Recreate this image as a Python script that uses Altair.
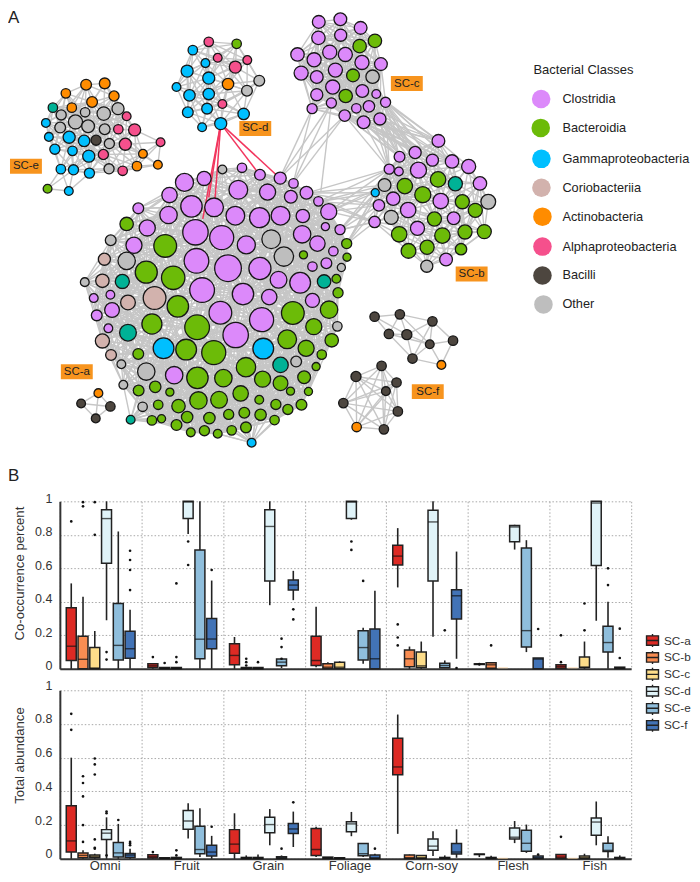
import math
import altair as alt
import pandas as pd

alt.data_transformers.disable_max_rows()
FONT = "Liberation Sans"

# ---------- network: nodes, as (x, y, radius) in 3x crop units
CLASS_NAMES = ["Clostridia", "Bacteroidia", "Gammaproteobacteria", "Coriobacteriia",
               "Actinobacteria", "Alphaproteobacteria", "Bacilli", "Other", "Teal"]
CLASS_COLORS = ["#DC89FA", "#6CBB08", "#00BFFF", "#D2B2AD", "#FF8C00", "#F5508C",
                "#4D463F", "#BEBEBE", "#00B296"]

e_nodes = {
    "Actinobacteria": [(259,251,18),(315,247,18),(198,277,16),(343,285,17),(277,303,18),(216,320,16),(430,459,15),(412,496,16),(475,492,15)],
    "Teal": [(159,320,16)],
    "Other": [(184,342,17),(256,334,16),(312,338,22),(355,323,20),(227,363,23),(265,376,21),(181,380,18),(315,385,18),(329,428,17),(328,504,17)],
    "Alphaproteobacteria": [(381,346,15),(356,385,16),(405,387,20),(377,430,20),(311,461,17),(369,510,16),(483,424,15)],
    "Bacilli": [(289,418,17)],
    "Gammaproteobacteria": [(138,366,15),(147,408,15),(208,409,20),(253,420,19),(165,445,17),(218,450,16),(267,466,20),(183,505,16),(221,507,17),(269,517,17),(207,571,15)],
    "Bacteroidia": [(143,564,15)],
}
d_nodes = {
    "Alphaproteobacteria": [(628,122,16),(655,170,15),(708,198,20),(744,177,15),(669,309,15)],
    "Bacteroidia": [(712,128,16)],
    "Gammaproteobacteria": [(580,147,16),(618,186,15),(563,210,20),(628,231,20),(531,258,15),(570,283,19),(628,279,19),(565,334,18),(623,323,18),(733,339,19),(664,368,20),(608,379,15)],
    "Actinobacteria": [(686,249,19)],
    "Other": [(780,239,18),(743,269,18)],
}
c_nodes = {
    "Clostridia": [(149,62,21),(214,54,21),(275,80,21),(148,110,22),(215,102,20),(182,153,23),(85,160,22),(135,176,23),(229,160,23),(279,184,23),(336,189,21),(96,216,23),(143,228,21),(199,207,23),(191,258,23),(143,281,20),(280,270,21),(322,279,15),(350,304,17),(187,306,17),(129,323,17),(262,322,16),(300,316,19),(227,344,19),(284,364,21),(333,354,20)],
    "Bacteroidia": [(272,135,22),(318,119,22),(252,223,21),(230,285,22)],
    "Other": [(311,227,22)],
}
b_nodes = {
    "Clostridia": [(509,420,21),(392,468,18),(439,455,20),(491,478,20),(550,482,22),(600,497,23),(361,505,17),(390,512,15),(449,508,26),(634,548,22),(373,594,22),(330,614,19),(418,628,25),(516,601,25),(555,653,21),(317,664,19),(446,683,23),(532,777,21)],
    "Bacteroidia": [(408,556,25),(508,536,25),(462,582,26),(581,603,23),(620,629,23),(497,655,23),(391,701,25),(521,705,25),(589,694,23),(647,693,23),(419,751,24),(475,740,23),(577,746,19)],
    "Teal": [(560,549,23)],
    "Other": [(347,553,21),(659,603,24),(367,650,23),(474,797,20)],
    "Gammaproteobacteria": [(319,576,14)],
}
a_nodes = {
    "Clostridia": [(405,65,29),(464,53,23),(360,103,25),(266,143,18),(426,137,34),(494,140,30),(357,163,28),(293,202,26),(567,87,30),(632,42,18),(578,21,16),(655,94,26),(693,52,20),(733,68,16),(725,108,21),(772,96,21),(808,122,16),(839,153,26),(558,165,30),(631,171,32),(694,165,30),(761,166,22),(829,198,14),(873,207,17),(438,215,40),(517,231,38),(253,254,26),(591,253,29),(759,221,28),(805,249,25),(853,272,16),(441,301,39),(536,323,42),(632,324,35),(832,308,18),(790,318,16),(688,358,27),(753,367,33),(458,389,39),(581,401,34),(660,410,25),(790,420,23),(513,457,36),(637,478,38),(559,524,40),(374,645,28),(132,413,15),(182,403,15),(187,449,24),(141,465,18),(176,504,15)],
    "Other": [(183,239,18),(231,301,28),(666,236,30),(704,288,31),(105,365,15),(877,321,14),(865,498,16),(215,612,15),(290,634,28),(221,674,15),(741,604,18),(279,740,16),(519,26,15)],
    "Bacteroidia": [(231,190,22),(347,256,36),(290,335,35),(371,352,37),(385,438,34),(307,491,32),(443,501,39),(410,568,33),(493,577,38),(266,581,18),(317,680,19),(267,691,18),(361,696,14),(444,653,34),(522,654,28),(590,621,31),(640,657,26),(694,669,24),(765,651,21),(801,619,14),(818,583,16),(771,564,26),(714,537,30),(848,540,22),(794,499,26),(731,458,36),(840,448,28),(867,397,17),(862,355,15),(894,290,14),(893,249,17),(763,283,14),(574,700,25),(447,721,28),(509,719,27),(630,719,15),(724,693,14),(778,694,14),(680,733,17),(757,734,18),(716,748,17),(634,764,19),(585,758,18),(538,763,17),(480,774,19),(413,771,19),(387,738,22),(326,734,16),(336,776,14),(307,781,16),(381,795,18),(424,817,15),(465,812,17),(505,821,15),(547,811,16),(590,802,18),(676,780,16)],
    "Teal": [(218,363,23),(235,517,27),(825,363,22),(694,614,25),(243,779,15)],
    "Coriobacteriia": [(164,296,20),(158,361,22),(315,413,36),(235,426,24),(158,542,23),(184,584,18)],
    "Gammaproteobacteria": [(342,564,33),(642,565,33),(607,848,15)],
}
a2_nodes = {
    "Bacilli": [(94,730,15),(182,739,16),(138,775,15)],
    "Actinobacteria": [(146,699,15)],
}
f1_nodes = {
    "Bacilli": [(107,109,16),(183,102,16),(150,161,16),(204,163,17),(281,123,16),(343,181,16),(273,192,15),(221,235,16)],
    "Actinobacteria": [(308,254,15)],
}
f2_nodes = {
    "Bacilli": [(128,257,16),(51,289,17),(173,307,16),(141,333,15),(13,369,16),(177,394,16),(135,448,16)],
    "Actinobacteria": [(53,441,16)],
}
# cluster table: nodes, crop origin x, crop origin y, link reach, extra reach per unit of radius
clusters = [
    (e_nodes, 0, 0, 40, 0),
    (d_nodes, 0, 0, 46, 0),
    (c_nodes, 270, 0, 60, 0),
    (b_nodes, 270, 0, 52, 0),
    (a_nodes, 50, 160, 22, 3.4),
    (a2_nodes, 50, 160, 40, 0),
    (f1_nodes, 340, 280, 44, 0),
    (f2_nodes, 340, 280, 70, 0),
]

def place(nodes, ox, oy):
    out = []
    for cls, pts in nodes.items():
        for zx, zy, zr in pts:
            out.append(dict(x=ox + zx / 3, y=oy + zy / 3, r=zr / 3, cls=cls))
    return out

node_rows, edge_rows = [], []
for nodes, ox, oy, link, per_r in clusters:
    pts = place(nodes, ox, oy)
    node_rows += pts
    for i, p in enumerate(pts):
        for q in pts[i + 1:]:
            if math.hypot(p["x"] - q["x"], p["y"] - q["y"]) < link + per_r * (p["r"] + q["r"]):
                edge_rows.append(dict(x=p["x"], y=p["y"], x2=q["x"], y2=q["y"], k="gray"))

def cross(from_pts, to_pts, ox, oy, kind="gray"):
    for ax, ay in from_pts:
        for bx, by in to_pts:
            edge_rows.append(dict(x=ox + ax / 3, y=oy + ay / 3, x2=ox + bx / 3, y2=oy + by / 3, k=kind))

# links between clusters, crop units of the SC-b / SC-c crop
cross([(129,323),(187,306),(227,344)], [(32,532),(72,548)], 270, 0)
cross([(187,306)], [(155,575)], 270, 0)
cross([(227,344),(284,364),(333,354),(350,304),(300,316),(322,279)],
      [(509,420),(491,478),(550,482),(439,455),(392,468),(361,505),(449,508)], 270, 0)
cross([(361,505),(347,553),(319,576),(330,614),(317,664)],
      [(112,577),(148,603),(179,633),(213,688),(233,730)], 270, 0)
cross([(367,650)], [(213,688)], 270, 0)
# red links, crop units of the top-left crop
cross([(664,368)], [(843,533),(781,522),(628,590),(645,620),(610,655)], 0, 0, "red")

labels_x = [10, 240, 392, 457, 61, 413]
labels_y = [158, 120, 75, 266, 364, 384]
labels_t = ["SC-e", "SC-d", "SC-c", "SC-b", "SC-a", "SC-f"]
legend_names = CLASS_NAMES[:8]
legend_x = [542.7, 542.3, 543, 543, 544, 544, 544, 545]
legend_y = [98, 127, 158, 187, 216, 246, 275, 304]

nodes_df = pd.DataFrame(node_rows)
nodes_df["s"] = (2 * (nodes_df["r"] - 0.6)) ** 2
edges_df = pd.DataFrame(edge_rows)
labels_df = pd.DataFrame(dict(x=labels_x, y=labels_y, t=labels_t))
labels_df["x2"] = labels_df["x"] + 32
labels_df["y2"] = labels_df["y"] + 15
labels_df["xc"] = labels_df["x"] + 16
labels_df["yc"] = labels_df["y"] + 7.5
legend_df = pd.DataFrame(dict(x=legend_x, y=legend_y, t=legend_names))
legend_df["xt"] = 564
letters_df = pd.DataFrame(dict(x=[8, 8], y=[22, 481], t=["A", "B"]))
head_df = pd.DataFrame(dict(x=[535], y=[69], t=["Bacterial Classes"]))
# invisible extent of the whole drawing, so the page holds it at 1:1
frame_df = pd.DataFrame(dict(x=[8], x2=[692], y=[8], y2=[874]))

xs = alt.Scale(domain=[60, 633], nice=False, zero=False)
ys = alt.Scale(domain=[480, 8], nice=False, zero=False)
X = alt.X("x:Q", scale=xs, axis=None)
Y = alt.Y("y:Q", scale=ys, axis=None)
class_color = alt.Color("cls:N", scale=alt.Scale(domain=CLASS_NAMES, range=CLASS_COLORS), legend=None)

network = alt.layer(
    alt.Chart(frame_df).mark_rect(opacity=0).encode(X, Y, x2="x2:Q", y2="y2:Q"),
    alt.Chart(edges_df[edges_df.k == "gray"]).mark_rule(color="#C6C6C6", strokeWidth=1.4).encode(X, Y, x2="x2:Q", y2="y2:Q"),
    alt.Chart(edges_df[edges_df.k == "red"]).mark_rule(color="#F2365E", strokeWidth=1.5).encode(X, Y, x2="x2:Q", y2="y2:Q"),
    alt.Chart(nodes_df).mark_circle(opacity=1, stroke="#161616", strokeWidth=1.3).encode(
        X, Y, class_color, size=alt.Size("s:Q", scale=None)),
    alt.Chart(labels_df).mark_rect(color="#F7941E").encode(X, Y, x2="x2:Q", y2="y2:Q"),
    alt.Chart(labels_df).mark_text(font=FONT, fontSize=11.5, color="#222").encode(
        alt.X("xc:Q", scale=xs, axis=None), alt.Y("yc:Q", scale=ys, axis=None), text="t:N"),
    alt.Chart(legend_df).mark_circle(opacity=1, size=346).encode(
        X, Y, alt.Color("t:N", scale=alt.Scale(domain=CLASS_NAMES, range=CLASS_COLORS), legend=None)),
    alt.Chart(legend_df).mark_text(font=FONT, fontSize=12.8, color="#222", align="left").encode(
        alt.X("xt:Q", scale=xs, axis=None), Y, text="t:N"),
    alt.Chart(head_df).mark_text(font=FONT, fontSize=13, color="#222", align="left").encode(X, Y, text="t:N"),
    alt.Chart(letters_df).mark_text(font=FONT, fontSize=17, color="#222", align="left", baseline="alphabetic").encode(X, Y, text="t:N"),
).properties(width=573, height=472)

# ---------- box plots
FOODS = ["Omni", "Fruit", "Grain", "Foliage", "Corn-soy", "Flesh", "Fish"]
SC = ["SC-a", "SC-b", "SC-c", "SC-d", "SC-e", "SC-f"]
SC_COLORS = ["#DD2A24", "#F98D52", "#FDDD8A", "#E0F3F8", "#8FBEDC", "#4273B6"]

# per food, per SC: q1, median, q3, low whisker, high whisker, outliers
co_omni = [(.05,.135,.365,0,.51,[.88]),(0,.057,.195,0,.43,[.995,.97]),(0,.005,.127,0,.226,[.80,.995]),
           (.63,.897,.95,.29,1,[.1,.055]),(.053,.14,.39,0,.82,[]),(.063,.12,.224,0,.353,[.47,.59,.65,.705])]
co_fruit = [(.008,.018,.03,0,.03,[.07]),(0,.003,.008,0,.008,[.035]),(0,.003,.008,0,.008,[.07,.04,.51]),
            (.897,.995,1,.805,1,[.76,.62]),(.06,.177,.71,0,1,[]),(.12,.178,.30,0,.527,[.59])]
co_grain = [(.025,.08,.15,0,.19,[]),(0,.002,.008,0,.008,[.06,.04,.02]),(0,.002,.008,0,.008,[.04]),
            (.524,.85,.95,.38,1,[]),(.018,.04,.058,.005,.058,[.13,.18,.06]),(.47,.5,.53,.41,.585,[.355,.295])]
co_foliage = [(.02,.05,.195,.01,.37,[]),(.002,.01,.03,0,.04,[]),(.002,.01,.04,0,.045,[]),
              (.897,.995,1,.89,1,[.76,.71]),(.053,.127,.228,.03,.245,[.525]),(0,.06,.238,0,.466,[])]
co_corn = [(.62,.673,.738,.486,.84,[.265,.187,.14]),(.012,.06,.113,0,.133,[]),(.008,.018,.10,0,.163,[]),
           (.524,.877,.946,.192,1,[]),(.006,.02,.034,.006,.05,[.23]),(.298,.436,.472,.06,.70,[.005])]
co_flesh = [(.026,.028,.03,.02,.035,[.028]),(.004,.024,.036,0,.036,[.14]),None,
            (.758,.847,.855,.712,.86,[]),(.13,.228,.722,.10,.768,[]),(0,.058,.065,0,.065,[.238])]
co_fish = [(.004,.014,.024,0,.024,[.2,.04]),None,(.008,.01,.07,0,.163,[.23,.39]),
           (.617,.99,1,.287,1,[]),(.10,.157,.254,0,.40,[.50,.60]),(.002,.005,.01,0,.01,[.065,.24])]
co_table = [co_omni, co_fruit, co_grain, co_foliage, co_corn, co_flesh, co_fish]

ab_omni = [(.04,.106,.315,0,.60,[.86,.765]),(.006,.02,.035,0,.05,[.10,.20,.37,.45,.49]),
           (.006,.014,.022,0,.03,[.06,.065,.115,.5,.56,.595]),(.114,.152,.173,0,.246,[.27,.28,.02]),
           (.01,.035,.096,0,.207,[.23]),(.008,.022,.031,0,.06,[.09,.1,.08])]
ab_fruit = [(.004,.012,.024,0,.03,[.04]),(.001,.003,.006,0,.006,[]),(.001,.003,.008,0,.008,[.05,.02]),
            (.175,.224,.287,.12,.33,[]),(.03,.055,.193,.01,.30,[]),(.016,.04,.08,0,.136,[.19])]
ab_grain = [(.033,.087,.173,0,.27,[]),(.001,.004,.008,0,.02,[]),(.001,.004,.008,0,.025,[]),
            (.154,.203,.246,.08,.295,[]),(.002,.006,.012,0,.02,[.06]),(.15,.177,.21,.07,.28,[.335])]
ab_foliage = [(.02,.055,.18,.01,.19,[]),(.002,.005,.01,0,.01,[]),(.001,.003,.006,0,.006,[]),
              (.16,.207,.22,.134,.278,[]),(.018,.03,.09,.01,.09,[]),(.002,.005,.022,0,.03,[.06])]
ab_corn = [(.498,.545,.715,.148,.856,[]),(.002,.006,.022,0,.025,[]),(.002,.006,.02,0,.02,[]),
           (.05,.075,.118,.016,.163,[]),(.002,.004,.008,0,.02,[]),(.028,.04,.09,.006,.175,[])]
ab_flesh = [(.025,.027,.028,.01,.028,[]),(.002,.004,.008,0,.018,[]),None,
            (.118,.128,.183,.093,.224,[]),(.045,.092,.17,.035,.203,[]),(.002,.006,.016,0,.016,[.025])]
ab_fish = [(.002,.01,.026,0,.026,[.13]),None,(.002,.006,.016,0,.03,[]),
           (.14,.218,.242,.08,.34,[]),(.043,.05,.092,.006,.134,[]),(.001,.004,.008,0,.02,[])]
ab_table = [ab_omni, ab_fruit, ab_grain, ab_foliage, ab_corn, ab_flesh, ab_fish]

# boxes with no visible spread: food, SC, value
co_flat = [("Flesh", "SC-c", .006), ("Fish", "SC-b", .006)]
ab_flat = [("Flesh", "SC-c", .003), ("Fish", "SC-b", .003)]

SC_PATH = "M-1,-0.78H1V0.78H-1Z M-1,0H1 M0,-0.78V-1.1 M0,0.78V1.1"

def panel(table, flat, title, height, title_y, label_off, show_x, show_legend):
    box, out = [], []
    for food, row in zip(FOODS, table):
        for sc, b in zip(SC, row):
            if b is None:
                continue
            q1, med, q3, lo, hi, outs = b
            box.append(dict(food=food, sc=sc, q1=q1, med=med, q3=q3, lo=lo, hi=hi))
            out += [dict(food=food, sc=sc, v=v) for v in outs]
    box_df, out_df = pd.DataFrame(box), pd.DataFrame(out)
    flat_df = pd.DataFrame(flat, columns=["food", "sc", "v"])

    yscale = alt.Scale(domain=[0, 1], nice=False)
    xaxis = alt.Axis(
        title=None, grid=True, gridDash=[1.5, 2], gridColor="#A8A8A8", gridWidth=1, tickBand="extent",
        ticks=False, domainColor="#333", domainWidth=2, labelAngle=0, labelFont=FONT, labelFontSize=13,
        labelColor="#333", labelPadding=0.5, labels=show_x, labelOffset=4)
    yaxis = alt.Axis(
        title=title, values=[0, .2, .4, .6, .8, 1], format="~g", grid=True, gridDash=[1.5, 2], gridColor="#A8A8A8",
        gridWidth=1, ticks=False, domainColor="#333", domainWidth=2, labelFont=FONT, labelFontSize=12.5,
        labelColor="#333", labelPadding=8, labelOffset=label_off, titleFont=FONT, titleFontSize=13.2,
        titleFontWeight="normal", titleColor="#333", titleX=-33, titleY=title_y)
    xsc = alt.Scale(domain=FOODS, paddingInner=0, paddingOuter=0)
    xo = alt.XOffset("sc:N", scale=alt.Scale(domain=SC, paddingInner=0, paddingOuter=0.47))
    xpos = alt.X("food:N", scale=xsc, axis=xaxis, sort=FOODS)
    legend = alt.Legend(
        title=None, orient="none", legendX=587.4, legendY=132.6, symbolType=SC_PATH, symbolSize=144,
        symbolStrokeColor="#222", symbolStrokeWidth=1.4, symbolOpacity=1, labelFont=FONT, labelFontSize=11.8,
        labelColor="#333", rowPadding=-5, labelOffset=4.5, padding=0) if show_legend else None
    color = alt.Color("sc:N", scale=alt.Scale(domain=SC, range=SC_COLORS), legend=legend)
    yv = alt.Y("v:Q", scale=yscale, axis=yaxis, title=title)
    yq = alt.Y("q1:Q", scale=yscale, axis=yaxis, title=title)
    return alt.layer(
        alt.Chart(box_df).mark_rule(color="#222", strokeWidth=1.6).encode(
            xpos, xo, alt.Y("lo:Q", scale=yscale, axis=yaxis, title=title), y2="hi:Q"),
        alt.Chart(flat_df).mark_tick(color="#F8CF9A", size=10, thickness=1).encode(xpos, xo, yv),
        alt.Chart(box_df).mark_bar(size=10, stroke="#222", strokeWidth=1.5).encode(xpos, xo, yq, y2="q3:Q", color=color),
        alt.Chart(box_df).mark_tick(color="#111", size=10, thickness=1.4).encode(
            xpos, xo, alt.Y("med:Q", scale=yscale, axis=yaxis, title=title)),
        alt.Chart(out_df).mark_circle(color="#111", size=7, opacity=1).encode(xpos, xo, yv),
    ).properties(width=573, height=height).resolve_scale(color="independent")

top = panel(co_table, co_flat, "Co-occurrence percent", 168, 72, -3, False, True)
bottom = panel(ab_table, ab_flat, "Total abundance", 169, 65, -5, True, False)

chart = alt.vconcat(network, top, bottom, spacing=21.5, bounds="flush").properties(padding=0).configure_view(stroke=None)
chart.save("out.html", embed_options={"renderer": "svg", "actions": False})
